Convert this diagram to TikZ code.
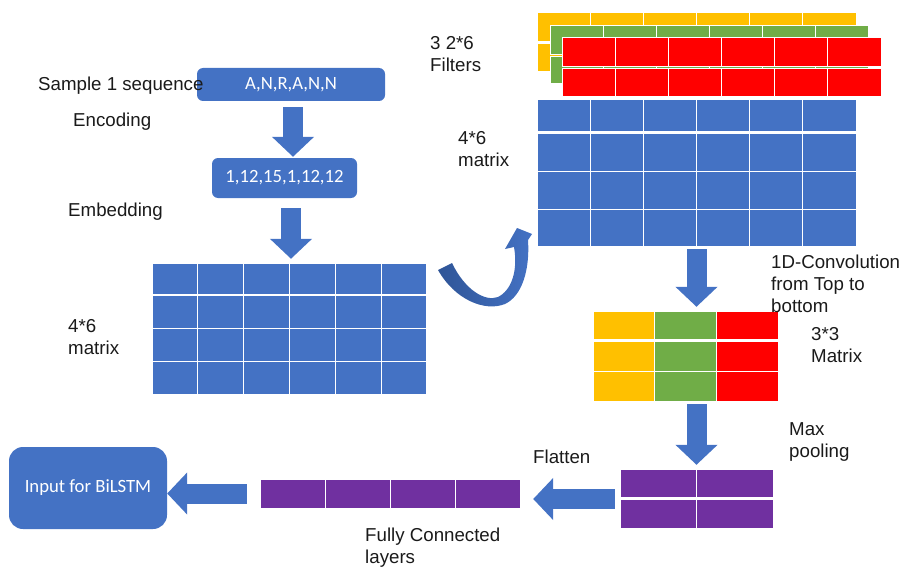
\documentclass[tikz,border=0pt]{standalone}
\usepackage{fontspec}
\setmainfont{Liberation Sans}
\newfontfamily\calfont{Carlito}
\usetikzlibrary{calc,arrows.meta}
\definecolor{bl}{HTML}{4472C4}
\definecolor{bldark}{HTML}{2F5597}
\definecolor{yl}{HTML}{FFC000}
\definecolor{gr}{HTML}{70AD47}
\definecolor{rd}{HTML}{FF0000}
\definecolor{pu}{HTML}{7030A0}
\definecolor{txt}{HTML}{1A1A1A}
\newcommand\mygrid[7]{%
  \foreach \i in {1,...,#5}{\foreach \j in {1,...,#6}{%
    \path[fill=#7, draw=white, line width=1pt] ({#1+(\i-1)*#3},{#2+(\j-1)*#4}) rectangle ++(#3,#4);
  }}}
\begin{document}
\begin{tikzpicture}[x=1pt,y=-1pt,
  lab/.style={font=\fontsize{18.7}{22}\selectfont, text=txt, inner sep=0pt, anchor=base west, align=left},
  bbox/.style={fill=bl, text=white, font=\calfont\fontsize{18.7}{22}\selectfont, inner sep=0pt},
  frame/.style={inner sep=0pt, draw=none},
  fat/.style={bl, line width=20pt, -{Triangle[length=20pt,width=41pt]}}]
\useasboundingbox (0,0) rectangle (902,567);

% boxes
\node[bbox, rounded corners=6pt, minimum width=188pt, minimum height=33pt] (box1) at (291,84.5) {A,N,R,A,N,N};
\node[bbox, rounded corners=6pt, minimum width=145pt, minimum height=40pt] (box2) at (284.5,178) {1,12,15,1,12,12};
\node[bbox, rounded corners=14pt, minimum width=158pt, minimum height=82pt] (box3) at (88,488) {Input for BiLSTM};

% left embedding matrix 4x6
\node[frame, minimum width=275pt, minimum height=131pt] (embm) at (289.5,328.5) {};
\mygrid{152}{263}{45.83}{31}{6}{1}{bl}
\mygrid{152}{295}{45.83}{33}{6}{3}{bl}

% filters
\mygrid{537}{13}{53.17}{28.5}{6}{1}{yl}
\mygrid{537}{44}{53.17}{28}{6}{1}{yl}
\mygrid{550}{26}{53}{28.5}{6}{1}{gr}
\mygrid{550}{57}{53}{27}{6}{1}{gr}
\mygrid{562}{38}{53.17}{28.5}{6}{1}{rd}
\mygrid{562}{69}{53.17}{28}{6}{1}{rd}

% right 4x6 matrix
\node[frame, minimum width=319pt, minimum height=147pt] (convm) at (696.5,173.5) {};
\mygrid{537}{100}{53.17}{31.5}{6}{1}{bl}
\mygrid{537}{133.5}{53.17}{37.83}{6}{3}{bl}

% 3x3 matrix
\node[frame, minimum width=185pt, minimum height=90pt] (cm) at (685.5,356) {};
\mygrid{593}{311}{61.67}{28.5}{1}{1}{yl}
\mygrid{593}{341.5}{61.67}{29.75}{1}{2}{yl}
\mygrid{654.67}{311}{61.67}{28.5}{1}{1}{gr}
\mygrid{654.67}{341.5}{61.67}{29.75}{1}{2}{gr}
\mygrid{716.33}{311}{61.67}{28.5}{1}{1}{rd}
\mygrid{716.33}{341.5}{61.67}{29.75}{1}{2}{rd}

% pooled 2x2
\node[frame, minimum width=153pt, minimum height=59pt] (pm) at (696.5,498.5) {};
\mygrid{620}{469}{76.5}{28.5}{2}{1}{pu}
\mygrid{620}{499.5}{76.5}{28.5}{2}{1}{pu}

% flattened row
\node[frame, minimum width=260pt, minimum height=29pt] (fcm) at (390,493.5) {};
\mygrid{260}{479}{65}{29}{4}{1}{pu}

% block arrows
\draw[fat] ($(box1.south)+(2,6)$) -- ($(box1.south |- box2.north)+(2,-1)$);
\draw[fat] ($(box2.south)+(6.5,10)$) -- ($(box2.south |- embm.north)+(6.5,-4)$);
\draw[fat] ($(convm.south)+(0,2)$) -- ($(convm.south |- cm.north)+(0,-4)$);
\draw[fat] ($(cm.south -| pm.north)+(0,3)$) -- ($(pm.north)+(0,-4)$);
\draw[fat] ($(pm.west)+(-5,0.5)$) -- ($(fcm.east |- pm.west)+(13,0.5)$);
\draw[fat] ($(fcm.west)+(-13,0)$) -- (box3.east |- fcm.west);

% curved arrow from left matrix to right matrix
\shade[left color=bldark, right color=bl]
  (438,270) .. controls (455,300) and (485,312) .. (505,304)
  .. controls (522,296) and (530,270) .. (528,240)
  -- (532,234) -- (517,228) -- (505,249) -- (514,247)
  .. controls (518,270) and (512,290) .. (498,297)
  .. controls (485,302) and (465,290) .. (452,263) -- cycle;

% text labels (anchored at the baseline of the last line)
\node[lab] (t1) at (38,91) {Sample 1 sequence};
\node[lab] (t2) at (73,127) {Encoding};
\node[lab] (t3) at (68,216) {Embedding};
\node[lab] (t4) at (68,354) {4*6\\matrix};
\node[lab] (t5) at (430,72) {3 2*6\\Filters};
\node[lab] (t6) at (458,167) {4*6\\matrix};
\node[lab] (t7) at (771,312) {1D-Convolution\\from Top to\\bottom};
\node[lab] (t8) at (811,362) {3*3\\Matrix};
\node[lab] (t9) at (789,457) {Max\\pooling};
\node[lab] (t10) at (533,463) {Flatten};
\node[lab] (t11) at (365,563) {Fully Connected\\layers};
\end{tikzpicture}
\end{document}
